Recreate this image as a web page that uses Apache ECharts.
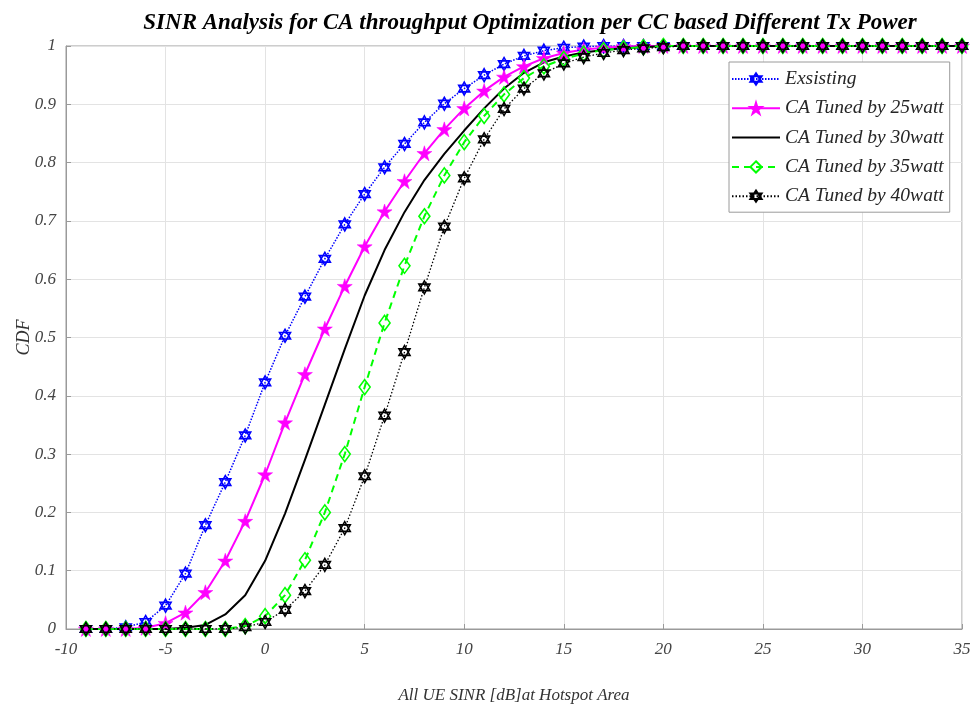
<!DOCTYPE html>
<html>
<head>
<meta charset="utf-8">
<script src="https://cdn.jsdelivr.net/npm/echarts@6/dist/echarts.min.js"></script>
<style>html,body{margin:0;padding:0;background:#fff;}#c{width:972px;height:709px;}</style>
</head>
<body>
<div id="c"></div>
<script>
const sinr = [-9,-8,-7,-6,-5,-4,-3,-2,-1,0,1,2,3,4,5,6,7,8,9,10,11,12,13,14,15,16,17,18,19,20,21,22,23,24,25,26,27,28,29,30,31,32,33,34,35];
const existing = [0,0,0.003,0.012,0.04,0.095,0.178,0.252,0.332,0.423,0.503,0.57,0.635,0.694,0.746,0.792,0.832,0.869,0.901,0.927,0.95,0.969,0.983,0.992,0.997,0.999,1,1,1,1,1,1,1,1,1,1,1,1,1,1,1,1,1,1,1];
const tuned25 = [0,0,0,0.002,0.01,0.028,0.063,0.117,0.185,0.265,0.354,0.437,0.515,0.588,0.656,0.716,0.768,0.816,0.857,0.893,0.923,0.947,0.965,0.979,0.988,0.994,0.997,0.999,1,1,1,1,1,1,1,1,1,1,1,1,1,1,1,1,1];
const tuned30 = [0,0,0,0,0,0.002,0.007,0.025,0.058,0.117,0.198,0.29,0.385,0.48,0.572,0.65,0.715,0.77,0.815,0.855,0.893,0.927,0.954,0.972,0.982,0.989,0.993,0.996,0.998,1,1,1,1,1,1,1,1,1,1,1,1,1,1,1,1];
const tuned35 = [0,0,0,0,0,0,0,0,0.005,0.022,0.058,0.118,0.2,0.3,0.415,0.525,0.623,0.708,0.778,0.835,0.88,0.917,0.945,0.965,0.978,0.987,0.993,0.996,0.998,1,1,1,1,1,1,1,1,1,1,1,1,1,1,1,1];
const tuned40 = [0,0,0,0,0,0,0,0,0.003,0.012,0.033,0.065,0.11,0.173,0.262,0.366,0.475,0.586,0.69,0.773,0.84,0.892,0.927,0.953,0.97,0.981,0.988,0.993,0.996,0.998,1,1,1,1,1,1,1,1,1,1,1,1,1,1,1];
const seriesNames = ['Exsisting','CA Tuned by 25watt','CA Tuned by 30watt','CA Tuned by 35watt','CA Tuned by 40watt'];

const pairs = arr => sinr.map((x,i)=>[x,arr[i]]);
const hexagram = 'path://M50,0 L93.3,75 L6.7,75 Z M50,100 L93.3,25 L6.7,25 Z';
const pentagram = 'path://M50,0 L61.23,34.55 L97.55,34.55 L68.17,55.9 L79.39,90.45 L50,69.1 L20.61,90.45 L31.83,55.9 L2.45,34.55 L38.77,34.55 Z';
const serif = '"Liberation Serif", "DejaVu Serif", serif';

const chart = echarts.init(document.getElementById('c'), null, {renderer:'canvas'});
chart.setOption({
  animation:false,
  backgroundColor:'#fff',
  title:{
    text:'SINR Analysis for CA throughput Optimization per CC based Different Tx Power',
    left:525, top:7, textAlign:'center',
    textStyle:{fontFamily:serif, fontStyle:'italic', fontWeight:'bold', fontSize:23, color:'#000'}
  },
  grid:{left:66, right:10, top:46, bottom:80, outerBoundsMode:'none', show:true, borderColor:'#9a9a9a', borderWidth:1, backgroundColor:'transparent'},
  legend:{
    orient:'vertical', left:729, top:62,
    backgroundColor:'#fff', borderColor:'#9a9a9a', borderWidth:1, borderRadius:0,
    padding:[7,6,6,2], itemWidth:48, itemHeight:14, itemGap:9.3,
    textStyle:{fontFamily:serif, fontStyle:'italic', fontSize:19.5, color:'#262626', lineHeight:18},
    data:[
      {name:seriesNames[0]},
      {name:seriesNames[1]},
      {name:seriesNames[2], itemStyle:{opacity:0}},
      {name:seriesNames[3]},
      {name:seriesNames[4]}
    ]
  },
  xAxis:{
    type:'value', min:-10, max:35, interval:5,
    name:'All UE SINR [dB]at Hotspot Area', nameLocation:'middle', nameGap:58,
    nameTextStyle:{fontFamily:serif, fontStyle:'italic', fontSize:17, color:'#333'},
    axisLine:{show:true, onZero:false, lineStyle:{color:'#9a9a9a', width:1}},
    axisTick:{show:true, inside:true, length:5, lineStyle:{color:'#9a9a9a'}},
    axisLabel:{fontFamily:serif, fontStyle:'italic', fontSize:17, color:'#444', margin:12},
    splitLine:{show:true, lineStyle:{color:'#e3e3e3', width:1}}
  },
  yAxis:{
    type:'value', min:0, max:1, interval:0.1,
    name:'CDF', nameLocation:'middle', nameGap:33, nameRotate:90, nameMoveOverlap:false,
    nameTextStyle:{fontFamily:serif, fontStyle:'italic', fontSize:18, color:'#333'},
    axisLine:{show:true, onZero:false, lineStyle:{color:'#9a9a9a', width:1}},
    axisTick:{show:true, inside:true, length:5, lineStyle:{color:'#9a9a9a'}},
    axisLabel:{fontFamily:serif, fontStyle:'italic', fontSize:17, color:'#444', margin:10},
    splitLine:{show:true, lineStyle:{color:'#e3e3e3', width:1}}
  },
  series:[
    {name:seriesNames[0], type:'line', data:pairs(existing), symbol:hexagram, symbolSize:[11,13], showAllSymbol:true,
      lineStyle:{color:'#0000ff', width:1.5, type:[1.5,1.5]},
      itemStyle:{color:'rgba(255,255,255,0)', borderColor:'#0000ff', borderWidth:1.6}},
    {name:seriesNames[1], type:'line', data:pairs(tuned25), symbol:pentagram, symbolSize:15, showAllSymbol:true,
      lineStyle:{color:'#ff00ff', width:2},
      itemStyle:{color:'#ff00ff', borderColor:'#ff00ff', borderWidth:0.5}},
    {name:seriesNames[2], type:'line', data:pairs(tuned30), symbol:'none', showSymbol:false,
      lineStyle:{color:'#000000', width:2},
      itemStyle:{color:'#000000'}},
    {name:seriesNames[3], type:'line', data:pairs(tuned35), symbol:'diamond', symbolSize:[11,15], showAllSymbol:true,
      lineStyle:{color:'#00ff00', width:2, type:[7,5]},
      itemStyle:{color:'rgba(255,255,255,0)', borderColor:'#00ff00', borderWidth:1.6}},
    {name:seriesNames[4], type:'line', data:pairs(tuned40), symbol:hexagram, symbolSize:[11,13], showAllSymbol:true,
      lineStyle:{color:'#000000', width:1.3, type:[1.5,2]},
      itemStyle:{color:'rgba(255,255,255,0)', borderColor:'#000000', borderWidth:1.6}}
  ]
});
</script>
</body>
</html>
